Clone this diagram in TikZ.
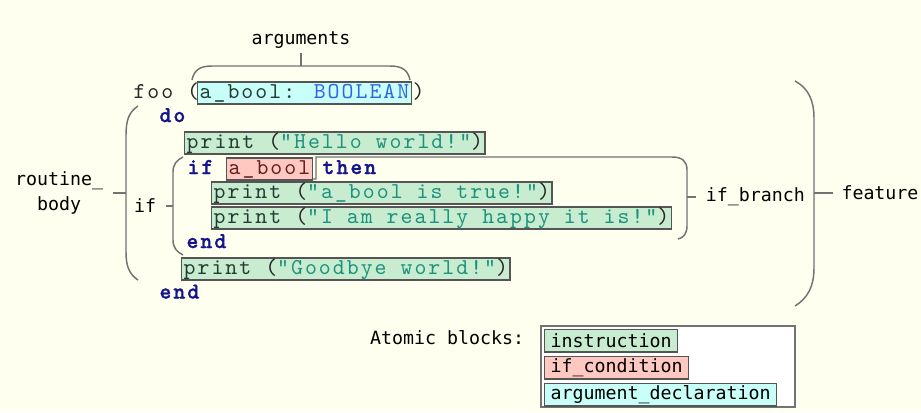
\documentclass[tikz,border=0pt]{standalone}
\usepackage{fontspec}
\usetikzlibrary{positioning}

\newfontfamily\codefont{lmmono10-regular.otf}[BoldFont=lmmonolt10-bold.otf,BoldFeatures={FakeBold=1.2},LetterSpace=9]
\newfontfamily\lblfont{DejaVu Sans Mono}

\definecolor{paper}{RGB}{255,255,240}
\definecolor{instrfill}{RGB}{200,236,208}
\definecolor{condfill}{RGB}{255,200,192}
\definecolor{argfill}{RGB}{200,255,248}
\definecolor{boxline}{RGB}{85,85,85}
\definecolor{bracecol}{RGB}{115,115,115}
\definecolor{kwcol}{RGB}{20,20,140}
\definecolor{strcol}{RGB}{30,145,125}
\definecolor{typecol}{RGB}{50,100,230}
\definecolor{idcol}{RGB}{35,60,50}
\definecolor{condtext}{RGB}{100,30,30}

\newcommand{\codekw}[1]{\textcolor{kwcol}{\bfseries #1}}
\newcommand{\codestr}[1]{\textcolor{strcol}{#1}}
\newcommand{\codeprint}[1]{\textcolor{idcol}{print} (\codestr{"#1"})}

\tikzset{every picture/.style={line width=0.75pt}}
\tikzset{
  code/.style={font=\codefont\fontsize{17}{20}\selectfont, text=black!85, inner sep=0pt, anchor=base west},
  atom/.style={code, draw=boxline, line width=1pt, inner xsep=1.5pt, inner ysep=0.5pt, text height=11.5pt, text depth=4pt},
  instr/.style={atom, fill=instrfill},
  cond/.style={atom, fill=condfill},
  argdecl/.style={atom, fill=argfill},
  lbl/.style={font=\lblfont\fontsize{13.7}{18.75}\selectfont, inner sep=1pt, text=black},
  legitem/.style={lbl, draw=boxline, line width=1pt, inner xsep=4.5pt, minimum height=17pt},
  brace/.style={draw=bracecol, line width=1.1pt},
}

\begin{document}
\begin{tikzpicture}[x=0.75pt,y=0.75pt,yscale=-1,xscale=1]
\fill[paper] (0,0) rectangle (921,412);
\useasboundingbox (0,0) rectangle (921,412);

%Brackets
\draw[brace] (192,80) .. controls (194,70) and (200,66) .. (212,66) -- (390,66) .. controls (402,66) and (408,70) .. (410,80);
\draw[brace] (301,66) -- (301,53) coordinate (argtip);
\draw[brace] (138,106) .. controls (129,112) and (126,120) .. (126,135) -- (126,252) .. controls (126,266) and (129,274) .. (138,280);
\draw[brace] (126,193) -- (113,193) coordinate (rbtip);
\draw[brace] (183,157) .. controls (177,160) and (173,164) .. (173,172) -- (173,240) .. controls (173,248) and (177,252) .. (183,255);
\draw[brace] (173,206) -- (166,206) coordinate (iftip);
\draw[brace] (285,179) -- (316,179) -- (316,157) -- (672,157) .. controls (682,157) and (687,161) .. (687,170) -- (687,226) .. controls (687,234) and (683,238) .. (678,239);
\draw[brace] (687,197) -- (696,197) coordinate (brtip);
\draw[brace] (795,81) .. controls (808,88) and (814,100) .. (814,118) -- (814,268) .. controls (814,286) and (808,298) .. (795,306);
\draw[brace] (814,193) -- (833,193) coordinate (fttip);

%Code
\node[code] (foo) at (133,98) {foo (};
\node[argdecl] (arg) at (197,98) {\textcolor{idcol}{a\_bool:} \textcolor{typecol}{BOOLEAN}};
\node[code] (argclose) at (arg.base east) {)};
\node[code] (do) at (159,122) {\codekw{do}};
\node[instr] (hello) at (184,148) {\codeprint{Hello world!}};
\node[code] (if) at (187,174) {\codekw{if}};
\node[cond] (abool) at (226,174) {\textcolor{condtext}{a\_bool}};
\node[code] (then) at (322,174) {\codekw{then}};
\node[instr] (istrue) at (211,198) {\codeprint{a\_bool is true!}};
\node[instr] (happy) at (211,223) {\codeprint{I am really happy it is!}};
\node[code] (endif) at (186,248) {\codekw{end}};
\node[instr] (bye) at (181,274) {\codeprint{Goodbye world!}};
\node[code] (enddo) at (159,298.5) {\codekw{end}};

%Labels
\node[lbl, above=2pt of argtip] (arglbl) {arguments};
\node[lbl, left=6pt of rbtip, align=center] (rblbl) {routine\_\\body};
\node[lbl, left=6pt of iftip] (iflbl) {if};
\node[lbl, right=6pt of brtip] (brlbl) {if\_branch};
\node[lbl, right=5pt of fttip] (ftlbl) {feature};

%Legend
\node[lbl, anchor=east] (atomic) at (526,338) {Atomic blocks:};
\draw[draw=bracecol, fill=white, line width=1pt] (541,326) rectangle (795,407);
\node[legitem, fill=instrfill, anchor=west] (linstr) at (544,340.5) {instruction};
\node[legitem, fill=condfill, below=2.25pt of linstr.south west, anchor=north west] (lcond) {if\_condition};
\node[legitem, fill=argfill, below=2.25pt of lcond.south west, anchor=north west] (larg) {argument\_declaration};

\end{tikzpicture}
\end{document}
